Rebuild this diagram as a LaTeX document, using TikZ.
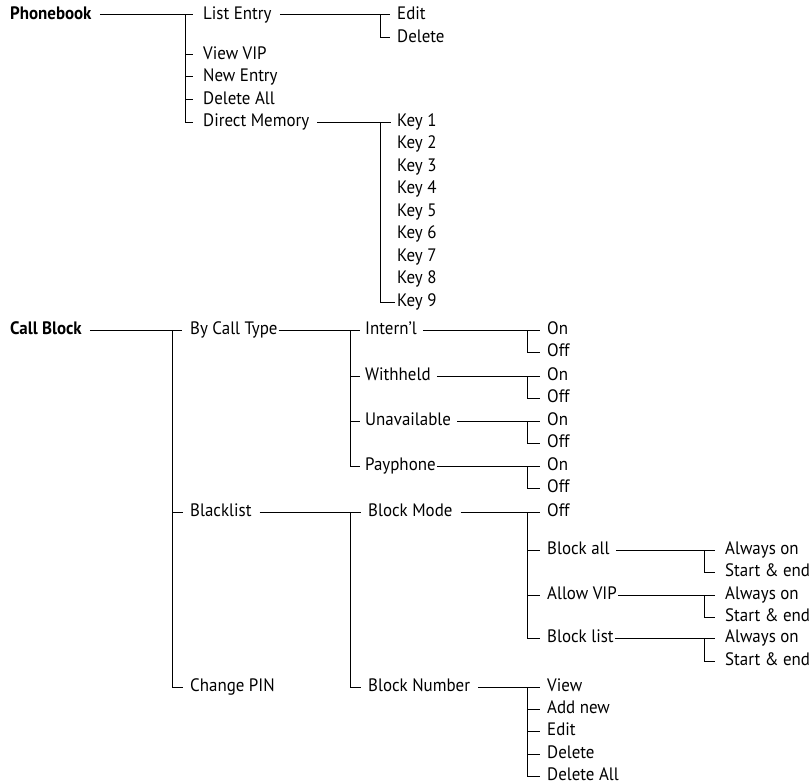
\documentclass[tikz,border=0pt]{standalone}
\usepackage{fontspec}
\setmainfont{PT Sans}[FakeStretch=0.94]
\begin{document}
\begin{tikzpicture}[x=1pt,y=-1pt,
  every node/.style={anchor=west,inner xsep=0pt,inner ysep=0pt,text height=0.82em,text depth=0pt,
    font=\fontsize{18}{21}\selectfont},
  bold/.style={font=\fontsize{18}{21}\selectfont\bfseries},
  conn/.style={line width=1pt,draw=black}]
\useasboundingbox (0,0) rectangle (812,784);
% vertical line positions
\coordinate (x185) at (185,0);
\coordinate (x380) at (380,0);
\coordinate (x172) at (172,0);
\coordinate (x350) at (350,0);
\coordinate (x527) at (527,0);
\coordinate (x704) at (704,0);

% ---------- Phonebook ----------
\node[bold] (pb) at (10,15) {Phonebook};
\node (le) at (203,15) {List Entry};
\node (vv) at (203,55) {View VIP};
\node (ne) at (203,77) {New Entry};
\node (da) at (203,100) {Delete All};
\node (dm) at (203,122) {Direct Memory};
\node (ed1) at (397,15) {Edit};
\node (de1) at (397,38) {Delete};
\foreach \i in {1,...,9} \node (k\i) at (397,{122+22.5*(\i-1)}) {Key \i};

\draw[conn] ([xshift=8pt]pb.east) -- ([xshift=-10pt]le.west);
\draw[conn] (x185 |- le.west) |- ([xshift=-10pt]dm.west);
\foreach \n in {vv,ne,da} \draw[conn] (x185 |- \n.west) -- ([xshift=-10pt]\n.west);
\draw[conn] ([xshift=8pt]le.east) -- ([xshift=-7pt]ed1.west);
\draw[conn] (x380 |- ed1.west) |- ([xshift=-7pt]de1.west);
\draw[conn] ([xshift=8pt]dm.east) -- ([xshift=-6pt]k1.west);
\draw[conn] (x380 |- k1.west) |- ([xshift=-2pt]k9.west);

% ---------- Call Block ----------
\node[bold] (cb) at (10,330) {Call Block};
\node (bct) at (190,330) {By Call Type};
\node (bl) at (190,512) {Blacklist};
\node (cp) at (190,687) {Change PIN};

\node (in) at (365,330) {Intern’l};
\node (wh) at (365,376) {Withheld};
\node (un) at (365,421) {Unavailable};
\node (pp) at (365,466) {Payphone};
\node (on1) at (547,330) {On};
\node (of1) at (547,352) {Off};
\node (on2) at (547,376) {On};
\node (of2) at (547,398) {Off};
\node (on3) at (547,421) {On};
\node (of3) at (547,443) {Off};
\node (on4) at (547,466) {On};
\node (of4) at (547,488) {Off};

\node (bm) at (368,512) {Block Mode};
\node (bn) at (368,687) {Block Number};
\node (moff) at (547,512) {Off};
\node (ba) at (547,550) {Block all};
\node (av) at (547,595) {Allow VIP};
\node (bli) at (547,638) {Block list};
\node (ao1) at (725,550) {Always on};
\node (se1) at (725,572) {Start \& end};
\node (ao2) at (725,595) {Always on};
\node (se2) at (725,617) {Start \& end};
\node (ao3) at (725,638) {Always on};
\node (se3) at (725,661) {Start \& end};

\node (vw) at (547,687) {View};
\node (an) at (547,709) {Add new};
\node (ed2) at (547,731) {Edit};
\node (de2) at (547,754) {Delete};
\node (dla) at (547,776) {Delete All};

% Call Block level
\draw[conn] ([xshift=8pt]cb.east) -- ([xshift=-8pt]bct.west);
\draw[conn] (x172 |- bct.west) |- ([xshift=-7pt]cp.west);
\draw[conn] (x172 |- bl.west) -- ([xshift=-7pt]bl.west);

% By Call Type
\draw[conn] ([xshift=1pt]bct.east) -- ([xshift=-5pt]in.west);
\draw[conn] (x350 |- in.west) |- ([xshift=-5pt]pp.west);
\foreach \n in {wh,un} \draw[conn] (x350 |- \n.west) -- ([xshift=-5pt]\n.west);

\draw[conn] ([xshift=6pt]in.east) -- ([xshift=-7pt]on1.west);
\draw[conn] (x527 |- on1.west) |- ([xshift=-7pt]of1.west);
\draw[conn] ([xshift=6pt]wh.east) -- ([xshift=-7pt]on2.west);
\draw[conn] (x527 |- on2.west) |- ([xshift=-7pt]of2.west);
\draw[conn] ([xshift=6pt]un.east) -- ([xshift=-7pt]on3.west);
\draw[conn] (x527 |- on3.west) |- ([xshift=-7pt]of3.west);
\draw[conn] ([xshift=1pt]pp.east) -- ([xshift=-7pt]on4.west);
\draw[conn] (x527 |- on4.west) |- ([xshift=-7pt]of4.west);

% Blacklist
\draw[conn] ([xshift=8pt]bl.east) -- ([xshift=-7pt]bm.west);
\draw[conn] (x350 |- bm.west) |- ([xshift=-7pt]bn.west);

% Block Mode
\draw[conn] ([xshift=8pt]bm.east) -- ([xshift=-7pt]moff.west);
\draw[conn] (x527 |- moff.west) |- ([xshift=-7pt]bli.west);
\foreach \n in {ba,av} \draw[conn] (x527 |- \n.west) -- ([xshift=-7pt]\n.west);

\draw[conn] ([xshift=6pt]ba.east) -- ([xshift=-10pt]ao1.west);
\draw[conn] (x704 |- ao1.west) |- ([xshift=-10pt]se1.west);
\draw[conn] ([xshift=1pt]av.east) -- ([xshift=-10pt]ao2.west);
\draw[conn] (x704 |- ao2.west) |- ([xshift=-10pt]se2.west);
\draw[conn] ([xshift=1pt]bli.east) -- ([xshift=-10pt]ao3.west);
\draw[conn] (x704 |- ao3.west) |- ([xshift=-10pt]se3.west);

% Block Number
\draw[conn] ([xshift=8pt]bn.east) -- ([xshift=-7pt]vw.west);
\draw[conn] (x527 |- vw.west) |- ([xshift=-7pt]dla.west);
\foreach \n in {an,ed2,de2} \draw[conn] (x527 |- \n.west) -- ([xshift=-7pt]\n.west);
\end{tikzpicture}
\end{document}
